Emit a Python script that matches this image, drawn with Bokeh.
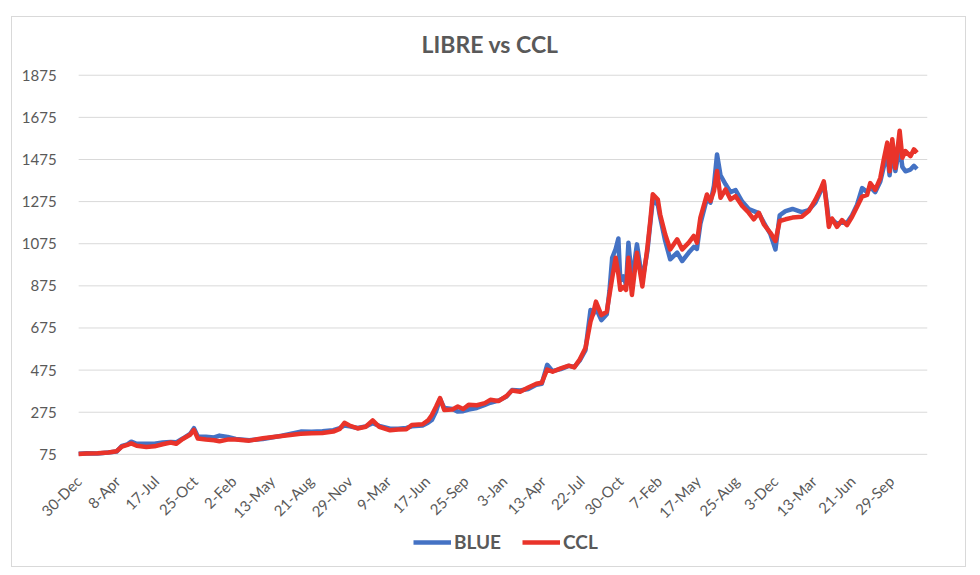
import math
import pandas as pd
from bokeh.plotting import figure
from bokeh.models import Range1d, FixedTicker, Legend, LegendItem
from bokeh.embed import file_html
from bokeh.resources import INLINE

# ---------------- data ----------------
dates = [
    "2019-12-30", "2020-01-20", "2020-02-17", "2020-03-16", "2020-04-06", "2020-04-20",
    "2020-05-04", "2020-05-14", "2020-05-28", "2020-06-22", "2020-07-13", "2020-08-03",
    "2020-08-24", "2020-09-07", "2020-09-24", "2020-10-13", "2020-10-23", "2020-11-02",
    "2020-11-23", "2020-12-14", "2020-12-28", "2021-01-18", "2021-02-08", "2021-03-15",
    "2021-04-19", "2021-06-07", "2021-07-26", "2021-08-23", "2021-09-20", "2021-10-18",
    "2021-11-04", "2021-11-16", "2021-11-29", "2021-12-20", "2022-01-10", "2022-01-28",
    "2022-02-14", "2022-03-14", "2022-04-04", "2022-04-25", "2022-05-09", "2022-06-06",
    "2022-06-20", "2022-06-30", "2022-07-11", "2022-07-21", "2022-08-01", "2022-08-22",
    "2022-09-05", "2022-09-19", "2022-10-03", "2022-10-24", "2022-11-14", "2022-11-28",
    "2022-12-19", "2023-01-09", "2023-01-23", "2023-02-13", "2023-03-06", "2023-03-27",
    "2023-04-10", "2023-04-24", "2023-05-08", "2023-05-29", "2023-06-19", "2023-07-03",
    "2023-07-17", "2023-08-01", "2023-08-14", "2023-08-21", "2023-08-28", "2023-09-11",
    "2023-09-25", "2023-10-02", "2023-10-09", "2023-10-18", "2023-10-25", "2023-10-30",
    "2023-11-07", "2023-11-14", "2023-11-20", "2023-11-29", "2023-12-12", "2023-12-26",
    "2024-01-08", "2024-01-16", "2024-01-22", "2024-02-04", "2024-02-10", "2024-02-23",
    "2024-03-07", "2024-03-25", "2024-04-07", "2024-04-24", "2024-05-07", "2024-05-15",
    "2024-05-24", "2024-06-10", "2024-06-19", "2024-06-28", "2024-07-06", "2024-07-15",
    "2024-07-28", "2024-08-10", "2024-08-23", "2024-09-09", "2024-09-26", "2024-10-09",
    "2024-10-22", "2024-11-04", "2024-11-21", "2024-12-04", "2024-12-15", "2024-12-30",
    "2025-01-17", "2025-02-10", "2025-02-28", "2025-03-17", "2025-03-30", "2025-04-08",
    "2025-04-16", "2025-04-21", "2025-04-29", "2025-05-12", "2025-05-25", "2025-06-07",
    "2025-06-20", "2025-07-03", "2025-07-16", "2025-07-29", "2025-08-06", "2025-08-19",
    "2025-09-01", "2025-09-10", "2025-09-19", "2025-09-25", "2025-10-02", "2025-10-10",
    "2025-10-21", "2025-10-28", "2025-11-05", "2025-11-18", "2025-11-27", "2025-12-05",
]
blue = [
    78, 80, 79, 84, 88, 115,
    122, 135, 125, 125, 125, 131,
    134, 132, 150, 172, 199, 160,
    158, 155, 164, 158, 148, 142,
    148, 163, 183, 182, 185, 190,
    200, 212, 208, 200, 208, 223,
    210, 197, 196, 200, 208, 212,
    225, 238, 280, 338, 295, 290,
    278, 280, 288, 295, 310, 320,
    330, 350, 380, 378, 385, 405,
    410, 500, 470, 480, 495, 490,
    520, 570, 760, 740, 770, 712,
    740, 850, 1008, 1050, 1100, 900,
    920, 880, 1080, 900, 1072, 900,
    1040, 1180, 1280, 1260, 1200, 1088,
    1001, 1033, 993, 1033, 1060, 1050,
    1170, 1290, 1270, 1350, 1499, 1400,
    1357, 1320, 1330, 1275, 1240, 1230,
    1220, 1175, 1120, 1048, 1210, 1230,
    1240, 1225, 1235, 1270, 1320, 1365,
    1260, 1180, 1190, 1170, 1175, 1175,
    1210, 1260, 1339, 1320, 1345, 1320,
    1370, 1440, 1500, 1400, 1520, 1420,
    1540, 1440, 1419, 1427, 1445, 1430,
]
ccl = [
    77, 79, 80, 84, 90, 112,
    120, 127, 116, 110, 113, 123,
    131, 125, 148, 168, 191, 150,
    145, 142, 137, 145, 146, 140,
    151, 162, 173, 175, 176, 183,
    196, 225, 212, 198, 206, 236,
    206, 189, 193, 194, 214, 218,
    236, 262, 302, 342, 285, 288,
    302, 290, 310, 308, 318, 334,
    328, 352, 378, 372, 392, 410,
    415, 478, 467, 483, 496, 488,
    525, 580, 705, 745, 800, 736,
    752, 832, 912, 1008, 930, 856,
    870, 856, 1008, 832, 1032, 872,
    1056, 1192, 1310, 1285, 1214, 1120,
    1048, 1096, 1048, 1080, 1112, 1080,
    1199, 1309, 1278, 1325, 1420, 1293,
    1333, 1285, 1301, 1254, 1222, 1191,
    1222, 1167, 1127, 1088, 1183, 1191,
    1199, 1203, 1230, 1283, 1331, 1371,
    1243, 1155, 1195, 1155, 1187, 1163,
    1203, 1251, 1299, 1307, 1363, 1331,
    1387, 1475, 1555, 1419, 1571, 1435,
    1611, 1483, 1515, 1491, 1523, 1507,
]
tick_dates = [
    "2019-12-30", "2020-04-08", "2020-07-17", "2020-10-25", "2021-02-02", "2021-05-13",
    "2021-08-21", "2021-11-29", "2022-03-09", "2022-06-17", "2022-09-25", "2023-01-03",
    "2023-04-13", "2023-07-22", "2023-10-30", "2024-02-07", "2024-05-17", "2024-08-25",
    "2024-12-03", "2025-03-13", "2025-06-21", "2025-09-29",
]
tick_labels = [
    "30-Dec", "8-Apr", "17-Jul", "25-Oct", "2-Feb", "13-May", "21-Aug", "29-Nov",
    "9-Mar", "17-Jun", "25-Sep", "3-Jan", "13-Apr", "22-Jul", "30-Oct", "7-Feb",
    "17-May", "25-Aug", "3-Dec", "13-Mar", "21-Jun", "29-Sep",
]
axis_start = "2019-12-30"
axis_end = "2026-01-01"
y_ticks = [75, 275, 475, 675, 875, 1075, 1275, 1475, 1675, 1875]
title_text = "LIBRE vs CCL"

# ---------------- build ----------------
t0 = pd.Timestamp(axis_start)
x_days = [(pd.Timestamp(d) - t0).days for d in dates]
tick_pos = [(pd.Timestamp(d) - t0).days for d in tick_dates]
x_end = (pd.Timestamp(axis_end) - t0).days

FONT = "Lato"
GREY = "#595959"
GRID = "#d9d9d9"

# plot-area geometry (page pixels): x 78..925, grid 1875 at y 74.7, grid 75 at y 452.3
# the frame spans x 12..925 and y 65..566 so that no label is clipped
px_per_day = (925 - 78) / x_end
x_low = -(78 - 12) / px_per_day
px_per_unit = (452.3 - 74.7) / (y_ticks[-1] - y_ticks[0])
y_low = y_ticks[0] - (566 - 452.3) / px_per_unit
y_high = y_ticks[-1] + (74.7 - 65) / px_per_unit

p = figure(width=955, height=551, output_backend="svg", toolbar_location=None,
           x_range=Range1d(x_low, x_end), y_range=Range1d(y_low, y_high),
           min_border_left=0, min_border_right=40, min_border_top=48,
           min_border_bottom=0, title=title_text)
p.margin = (16, 0, 0, 11)
p.styles = {"border": "1px solid #d9d9d9"}
p.outline_line_color = None
p.background_fill_color = "white"
p.border_fill_color = "white"

p.title.align = "left"
p.title.offset = 409
p.title.text_font = FONT
p.title.text_font_style = "bold"
p.title.text_font_size = "23px"
p.title.text_color = GREY
p.title.standoff = 15

p.xgrid.visible = False
p.ygrid.visible = False
# horizontal gridlines across the plotted date span
p.segment(x0=[0] * len(y_ticks), x1=[x_end] * len(y_ticks), y0=y_ticks, y1=y_ticks,
          line_color=GRID, line_width=1)

p.yaxis.ticker = FixedTicker(ticks=y_ticks)
p.yaxis.fixed_location = 0
p.xaxis.ticker = FixedTicker(ticks=tick_pos)
p.xaxis.fixed_location = y_ticks[0]
p.xaxis.major_label_overrides = {pos: lab for pos, lab in zip(tick_pos, tick_labels)}
p.xaxis.major_label_orientation = math.pi / 4
for ax in (p.xaxis, p.yaxis):
    ax.axis_line_color = None
    ax.major_tick_line_color = None
    ax.minor_tick_line_color = None
    ax.major_label_text_font = FONT
    ax.major_label_text_font_size = "15px"
    ax.major_label_text_color = GREY
p.yaxis.major_label_standoff = 16
p.xaxis.major_label_standoff = 18

r_blue = p.line(x_days, blue, line_color="#4472C4", line_width=4.5, line_join="round")
r_ccl = p.line(x_days, ccl, line_color="#E9332A", line_width=4.5, line_join="round")

legend = Legend(items=[LegendItem(label="BLUE", renderers=[r_blue]),
                       LegendItem(label="CCL", renderers=[r_ccl])],
                orientation="horizontal", location=(401, 15),
                label_text_font=FONT, label_text_font_style="bold",
                label_text_font_size="19px", label_text_color=GREY,
                glyph_width=38, glyph_height=20, label_height=20,
                label_standoff=3, spacing=21, padding=0, margin=0,
                border_line_alpha=0, background_fill_alpha=0)
p.add_layout(legend)

open("out.html", "w").write(file_html(p, INLINE))
